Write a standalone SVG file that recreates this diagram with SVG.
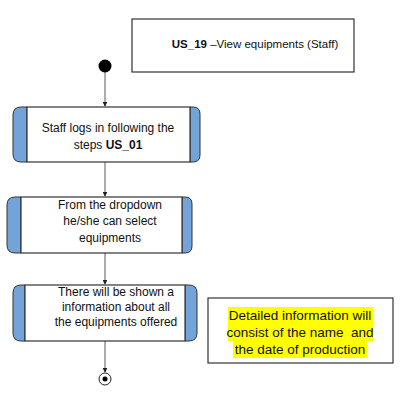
<svg xmlns="http://www.w3.org/2000/svg" width="410" height="416" viewBox="0 0 410 416">
<defs>
<marker id="arr" viewBox="0 0 6 6" refX="5" refY="3" markerWidth="4" markerHeight="4" orient="auto">
<path d="M0,0 L6,3 L0,6 z" fill="#222"/>
</marker>
<style>
.box{fill:#fff;stroke:#333;stroke-width:1.2}
.cap{fill:#72a4da;stroke:#333;stroke-width:1}
.t{font-family:"Liberation Sans",Arial,sans-serif;font-size:12px;fill:#111;text-anchor:middle}
.n{font-family:"Liberation Sans",Arial,sans-serif;font-size:13.5px;fill:#111;text-anchor:middle}
.c{stroke:#777;stroke-width:1.2;fill:none;marker-end:url(#arr)}
.hl{fill:#ffff00}
</style>
</defs>
<rect width="410" height="416" fill="#fff"/>
<g id="title">
<rect x="132" y="19" width="222" height="53" fill="#fff" stroke="#333" stroke-width="1.2"/>
<text x="255" y="48" class="t" style="font-size:11.5px"><tspan font-weight="bold">US_19</tspan> –View equipments (Staff)</text>
</g>
<g id="connectors">
<line x1="105" y1="72" x2="105" y2="106" class="c"/>
<line x1="105" y1="162" x2="105" y2="196" class="c"/>
<line x1="105" y1="253" x2="105" y2="284" class="c"/>
<line x1="105" y1="341" x2="105" y2="372" class="c"/>
</g>
<g id="start">
<circle cx="105" cy="66" r="6.5" fill="#000"/>
</g>
<g id="node1">
<path class="cap" d="M27,107 L21,107 Q13,107 13,115 L13,154 Q13,162 21,162 L27,162 Z"/>
<path class="cap" d="M190,107 L193,107 Q200,107 200,114 L200,155 Q200,162 193,162 L190,162 Z"/>
<rect class="box" x="27" y="107" width="163" height="55"/>
<text class="t" x="108" y="132">Staff logs in following the</text>
<text class="t" x="108" y="149">steps <tspan font-weight="bold">US_01</tspan></text>
</g>
<g id="node2">
<path class="cap" d="M21,197 L15,197 Q7,197 7,205 L7,245 Q7,253 15,253 L21,253 Z"/>
<path class="cap" d="M182,197 L185,197 Q192,197 192,204 L192,246 Q192,253 185,253 L182,253 Z"/>
<rect class="box" x="21" y="197" width="161" height="56"/>
<text class="t" x="110" y="209">From the dropdown</text>
<text class="t" x="110" y="225">he/she can select</text>
<text class="t" x="110" y="242">equipments</text>
</g>
<g id="node3">
<path class="cap" d="M25,285 L21,285 Q13,285 13,293 L13,333 Q13,341 21,341 L25,341 Z"/>
<path class="cap" d="M185,285 L189,285 Q197,285 197,293 L197,333 Q197,341 189,341 L185,341 Z"/>
<rect class="box" x="25" y="285" width="160" height="56"/>
<text class="t" x="116" y="296">There will be shown a</text>
<text class="t" x="116" y="311">information about all</text>
<text class="t" x="116" y="326">the equipments offered</text>
</g>
<g id="end">
<circle cx="105" cy="379" r="6" fill="#fff" stroke="#222" stroke-width="1"/>
<circle cx="105" cy="379" r="2.5" fill="#000"/>
</g>
<g id="note">
<rect x="208" y="298" width="185" height="65" fill="#fff" stroke="#333" stroke-width="1.2"/>
<rect class="hl" x="228" y="307" width="145" height="17"/>
<rect class="hl" x="228" y="324" width="145" height="17"/>
<rect class="hl" x="233" y="341" width="134" height="17"/>
<text class="n" x="300" y="320">Detailed information will</text>
<text class="n" x="300" y="337" xml:space="preserve">consist of the name  and</text>
<text class="n" x="300" y="354">the date of production</text>
</g>
</svg>
